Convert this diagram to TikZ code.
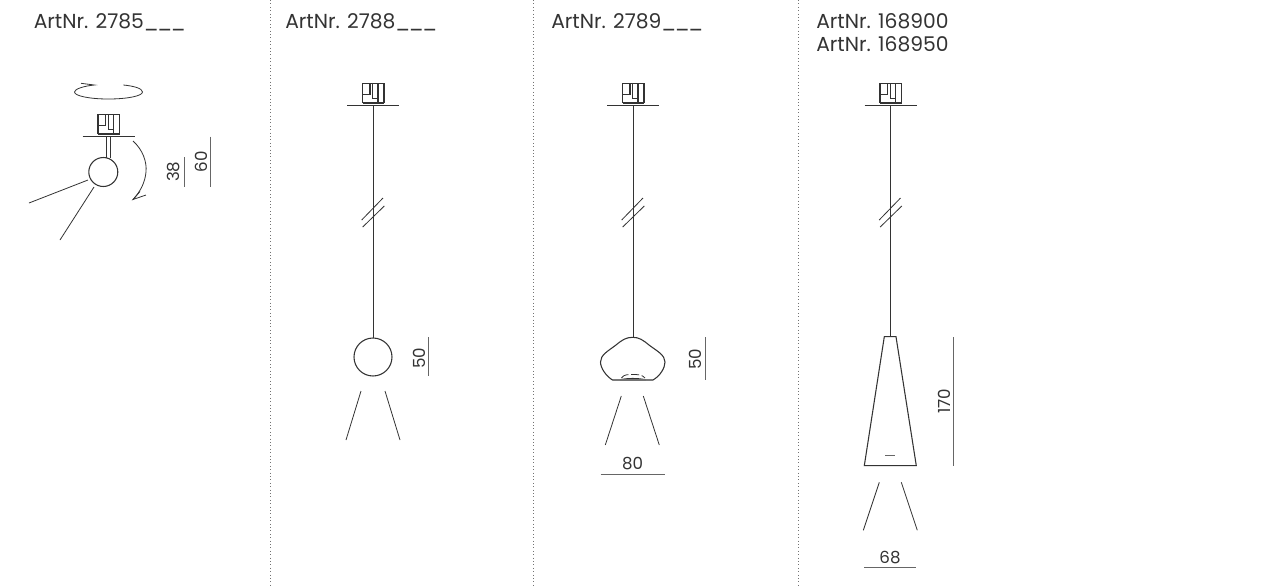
\documentclass[tikz,border=0pt]{standalone}
\usepackage{fontspec}
\setmainfont{Poppins}
\usetikzlibrary{calc}
\definecolor{ink}{gray}{0.2}
\tikzset{
  x=0.75pt,y=-0.75pt,
  thin line/.style={line width=0.6pt,draw=ink},
  solid line/.style={line width=0.8pt,draw=ink},
  dim line/.style={line width=0.65pt,draw=black!60},
  sep line/.style={line width=0.7pt,draw=black!55,dash pattern=on 0.75pt off 1.8pt},
  label/.style={inner sep=0pt,text=ink,font=\fontsize{15.2}{18}\selectfont,anchor=base west},
  dim/.style={inner sep=0pt,text=ink,font=\fontsize{12.5}{14}\selectfont},
}
\newcommand{\blanks}{\_\kern-1pt\_\kern-1pt\_}
\newcommand{\fitting}[2]{%
  \begin{scope}[shift={(#1,#2)}]
    \draw[solid line] (-10.5,-22) rectangle (11,-3);
    \draw[line width=1.2pt,draw=ink] (-10.5,-2.5) -- (11,-2.5);
    \draw[solid line] (-3,-22) -- (-3,-11) -- (-10.5,-11);
    \draw[thin line] (-0.5,-22) -- (-0.5,-7) -- (5,-7);
    \draw[solid line] (5,-22) -- (5,-3);
    \draw[solid line] (-26,0) -- (26,0);
  \end{scope}}
\newcommand{\cutmark}[1]{%
  \draw[thin line] ($(#1)+(-11.3,22)$) -- ($(#1)+(10,0)$);
  \draw[thin line] ($(#1)+(-10.3,29)$) -- ($(#1)+(11.3,8)$);}
\begin{document}
\begin{tikzpicture}
\useasboundingbox (0,0) rectangle (1268,587);
% separators
\foreach \xx in {270,533,798} \draw[sep line] (\xx,0) -- (\xx,587);
% titles
\node[label] (t1) at (33.5,28) {ArtNr. 2785\blanks};
\node[label] (t2) at (285,28) {ArtNr. 2788\blanks};
\node[label] (t3) at (551,28) {ArtNr. 2789\blanks};
\node[label] (t4) at (816,28) {ArtNr. 168900};
\node[label] (t5) at (816,51) {ArtNr. 168950};
% panel 1
\fitting{108.5}{136.7}
\draw[thin line] (106,137) -- (106,158) (110,137) -- (110,158);
\draw[solid line] (103.3,172) circle (14.5);
\draw[thin line] (88,180) -- (29,203);
\draw[thin line] (94,187) -- (60,240);
\draw[thin line] (123.3,85) .. controls (134,86) and (142.5,88.5) .. (142.5,92) .. controls (142.5,96) and (127,99) .. (108.3,99) .. controls (90,99) and (74.5,96) .. (74.5,92) .. controls (74.5,89) and (84,86) .. (94.3,85) -- (81,83.3);
\draw[thin line] (133,141) .. controls (143,150) and (147,162) .. (146,172) .. controls (145,183) and (140,192) .. (133,199.5);
\draw[thin line] (140,191.5) -- (133,199.5) -- (146,195);
\draw[dim line] (184,157.3) -- (184,186.7);
\draw[dim line] (210.3,136.7) -- (210.3,186.7);
\node[dim,rotate=90] (d38) at (174,171.7) {38};
\node[dim,rotate=90] (d60) at (201,161.7) {60};
% panel 2
\fitting{373}{105.7}
\draw[thin line] (373,106) -- (373,338);
\cutmark{373,198}
\draw[solid line] (373,357) circle (19);
\draw[thin line] (361,391) -- (346,440);
\draw[thin line] (385,391) -- (400,440);
\draw[dim line] (428,337) -- (428,376);
\node[dim,rotate=90] (d50a) at (419,358) {50};
% panel 3
\fitting{633}{105.7}
\draw[thin line] (633,106) -- (633,337);
\cutmark{633,198}
\draw[solid line] (632.7,337.3) .. controls (626,337.3) and (622,340) .. (616,345) .. controls (608,351) and (600.5,355) .. (600.5,362) .. controls (600.5,368) and (606,376) .. (612.5,380) -- (620,380) .. controls (625,378) and (640,378) .. (646,380) -- (653,380) .. controls (660,376) and (665,368) .. (665,362) .. controls (665,355) and (657,351) .. (649,345) .. controls (643,340) and (639,337.3) .. (632.7,337.3);
\draw[line width=1pt,draw=black!55] (620,380) -- (646,380);
\draw[thin line,dash pattern=on 6pt off 2pt] (621.5,378) .. controls (624,374.5) and (627,374.5) .. (632.7,374.5) .. controls (638,374.5) and (642,374.5) .. (645,378);
\draw[thin line] (621.3,396) -- (605.3,445);
\draw[thin line] (643.3,396) -- (659.3,445);
\draw[dim line] (705,337) -- (705,380);
\node[dim,rotate=90] (d50b) at (695,359) {50};
\draw[dim line] (600.5,474.3) -- (664.7,474.3);
\node[dim] (d80) at (632.5,464) {80};
% panel 4
\fitting{890.5}{105.7}
\draw[thin line] (890.7,106) -- (890.7,337);
\cutmark{890.5,198}
\draw[solid line] (884.3,336.7) -- (896,336.7) -- (916.3,465.7) -- (864.3,465.7) -- cycle;
\draw[dim line] (885.3,455) -- (895,455);
\draw[thin line] (879.3,482.3) -- (863.3,530.3);
\draw[thin line] (901.3,482.3) -- (917.3,530.3);
\draw[dim line] (953.7,337) -- (953.7,465.7);
\node[dim,rotate=90] (d170) at (944,401) {170};
\draw[dim line] (864.3,567.7) -- (916.3,567.7);
\node[dim] (d68) at (890,558) {68};
\end{tikzpicture}
\end{document}
